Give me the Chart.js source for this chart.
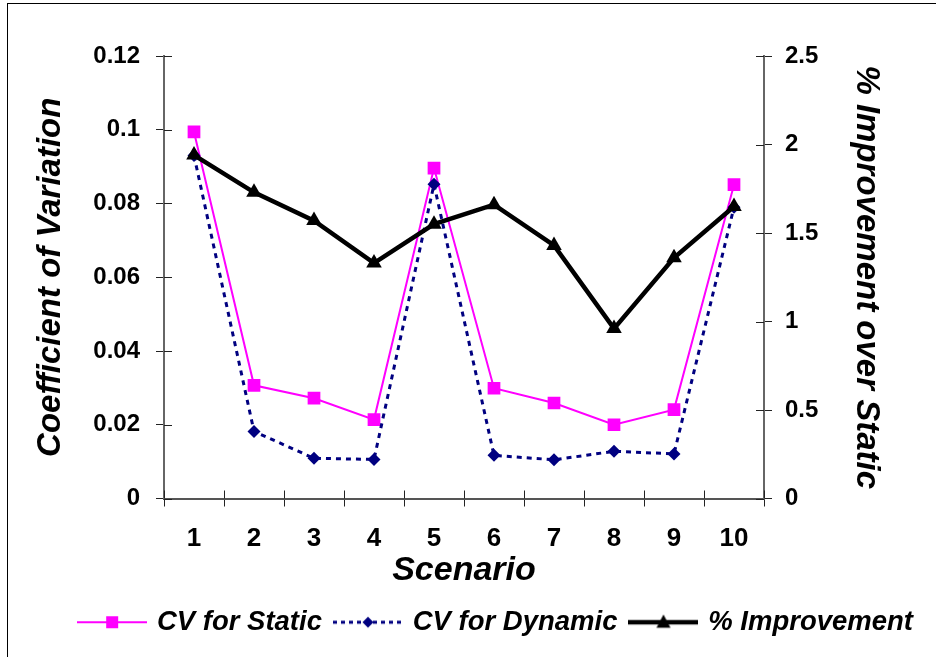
<!DOCTYPE html>
<html>
<head>
<meta charset="utf-8">
<title>Coefficient of Variation by Scenario</title>
<script src="https://cdn.jsdelivr.net/npm/chart.js@4.4.1/dist/chart.umd.min.js"></script>
<style>
  html, body { margin: 0; padding: 0; background: #fff; }
  #wrap { position: relative; width: 936px; height: 657px; overflow: hidden; }
  #frame { position: absolute; left: 7px; top: 3px; width: 960px; height: 680px;
           border-left: 1px solid #000; border-top: 1px solid #000; }
  #cv { position: absolute; left: 0; top: 0; }
</style>
</head>
<body>
<div id="wrap">
  <div id="frame"></div>
  <canvas id="cv" width="936" height="657"></canvas>
</div>
<script>
// scenario labels and series values
const scenarios = ['1', '2', '3', '4', '5', '6', '7', '8', '9', '10'];
const cvStatic = [0.0994, 0.0307, 0.0272, 0.0214, 0.0896, 0.0299, 0.0259, 0.0200, 0.0241, 0.0851];
const cvDynamic = [0.0930, 0.0182, 0.0109, 0.0106, 0.0852, 0.0117, 0.0105, 0.0128, 0.0121, 0.0790];
const improvement = [1.94, 1.73, 1.57, 1.33, 1.55, 1.66, 1.43, 0.96, 1.36, 1.65];

const FONT = 'Arial, "Liberation Sans", sans-serif';
const MAGENTA = '#ff00ff';
const NAVY = '#000080';
const BLACK = '#000000';

// little line + marker samples for the legend
function legendSwatch(color, dash, lineWidth, marker, size) {
  const c = document.createElement('canvas');
  c.width = 70;
  c.height = 22;
  const g = c.getContext('2d');
  g.strokeStyle = color;
  g.lineWidth = lineWidth;
  g.setLineDash(dash);
  g.beginPath();
  g.moveTo(0, 11);
  g.lineTo(70, 11);
  g.stroke();
  g.setLineDash([]);
  g.fillStyle = color;
  g.beginPath();
  if (marker === 'rect') {
    g.rect(35 - size / 2, 11 - size / 2, size, size);
  } else if (marker === 'rectRot') {
    g.moveTo(35, 11 - size / 2);
    g.lineTo(35 + size / 2, 11);
    g.lineTo(35, 11 + size / 2);
    g.lineTo(35 - size / 2, 11);
    g.closePath();
  } else {
    g.moveTo(35, 11 - size * 0.55);
    g.lineTo(35 + size / 2, 11 + size * 0.4);
    g.lineTo(35 - size / 2, 11 + size * 0.4);
    g.closePath();
  }
  g.fill();
  return c;
}

const swatches = [
  legendSwatch(MAGENTA, [], 2, 'rect', 12),
  legendSwatch(NAVY, [4, 4], 3, 'rectRot', 11),
  legendSwatch(BLACK, [], 4.5, 'triangle', 14)
];

// Excel style ticks that cross the axis line: draw the inner half
const crossTicks = {
  id: 'crossTicks',
  beforeDatasetsDraw(chart) {
    const ctx = chart.ctx;
    const len = 8;
    ctx.save();
    ctx.strokeStyle = '#222';
    ctx.lineWidth = 1;
    ctx.beginPath();
    const x = chart.scales.x;
    for (let i = 0; i <= scenarios.length; i++) {
      const px = Math.round(x.getPixelForValue(i - 0.5)) + 0.5;
      ctx.moveTo(px, x.top);
      ctx.lineTo(px, x.top - len);
    }
    const y = chart.scales.y;
    y.ticks.forEach((t, i) => {
      const py = Math.round(y.getPixelForTick(i)) + 0.5;
      ctx.moveTo(y.right, py);
      ctx.lineTo(y.right + len, py);
    });
    const y1 = chart.scales.y1;
    y1.ticks.forEach((t, i) => {
      const py = Math.round(y1.getPixelForTick(i)) + 0.5;
      ctx.moveTo(y1.left, py);
      ctx.lineTo(y1.left - len, py);
    });
    ctx.stroke();
    ctx.restore();
  }
};

const tickFont = { family: FONT, size: 24, weight: 'bold' };
const titleFont = { family: FONT, size: 33, weight: 'bold', style: 'italic' };

new Chart(document.getElementById('cv'), {
  type: 'line',
  data: {
    labels: scenarios,
    datasets: [
      {
        label: 'CV for Static',
        data: cvStatic,
        yAxisID: 'y',
        order: 3,
        borderColor: MAGENTA,
        backgroundColor: MAGENTA,
        borderWidth: 2,
        pointStyle: 'rect',
        pointRadius: 9,
        pointBorderWidth: 0,
        tension: 0
      },
      {
        label: 'CV for Dynamic',
        data: cvDynamic,
        yAxisID: 'y',
        order: 2,
        borderColor: NAVY,
        backgroundColor: NAVY,
        borderWidth: 3,
        borderDash: [5, 5],
        pointStyle: 'rectRot',
        pointRadius: 6.5,
        pointBorderWidth: 0,
        tension: 0
      },
      {
        label: '% Improvement',
        data: improvement,
        yAxisID: 'y1',
        order: 1,
        borderColor: BLACK,
        backgroundColor: BLACK,
        borderWidth: 4.5,
        pointStyle: 'triangle',
        pointRadius: 9,
        pointBorderWidth: 0,
        tension: 0
      }
    ]
  },
  options: {
    responsive: false,
    animation: false,
    layout: { padding: { top: 56, left: 0, right: 8, bottom: 11 } },
    plugins: {
      tooltip: { enabled: false },
      legend: {
        position: 'bottom',
        align: 'end',
        labels: {
          usePointStyle: true,
          pointStyleWidth: 62,
          boxHeight: 20,
          padding: 15,
          color: '#000',
          font: { family: FONT, size: 27.5, weight: 'bold', style: 'italic' },
          generateLabels: chart => chart.data.datasets.map((ds, i) => ({
            text: ds.label,
            pointStyle: swatches[i],
            fillStyle: ds.borderColor,
            strokeStyle: ds.borderColor,
            lineWidth: 0,
            fontColor: '#000',
            hidden: !chart.isDatasetVisible(i),
            datasetIndex: i
          }))
        }
      }
    },
    scales: {
      x: {
        offset: true,
        grid: { offset: true, drawOnChartArea: false, tickLength: 8, color: '#222', lineWidth: 1 },
        border: { color: '#555', width: 2 },
        ticks: { font: { family: FONT, size: 26, weight: 'bold' }, color: '#000', padding: 17, maxRotation: 0 },
        title: { display: true, text: 'Scenario', color: '#000', font: { family: FONT, size: 34, weight: 'bold', style: 'italic' }, padding: { top: 0, bottom: 2 } },
        afterFit: s => { s.height = 95; }
      },
      y: {
        position: 'left',
        min: 0,
        max: 0.12,
        ticks: { stepSize: 0.02, font: tickFont, color: '#000', padding: 16, callback: v => +v.toFixed(2) },
        grid: { drawOnChartArea: false, tickLength: 8, color: '#222', lineWidth: 1 },
        border: { color: '#666', width: 2 },
        title: { display: true, text: 'Coefficient of Variation', color: '#000', font: titleFont, padding: { top: 31, bottom: 0 } },
        afterFit: s => { s.width = 164; }
      },
      y1: {
        position: 'right',
        min: 0,
        max: 2.5,
        ticks: { stepSize: 0.5, font: tickFont, color: '#000', padding: 13, callback: v => +v.toFixed(1) },
        grid: { drawOnChartArea: false, tickLength: 8, color: '#222', lineWidth: 1 },
        border: { color: '#666', width: 2 },
        title: { display: true, text: '% Improvement over Static', color: '#000', font: titleFont, padding: { top: 42, bottom: 0 } },
        afterFit: s => { s.width = 164; }
      }
    }
  },
  plugins: [crossTicks]
});
</script>
</body>
</html>
